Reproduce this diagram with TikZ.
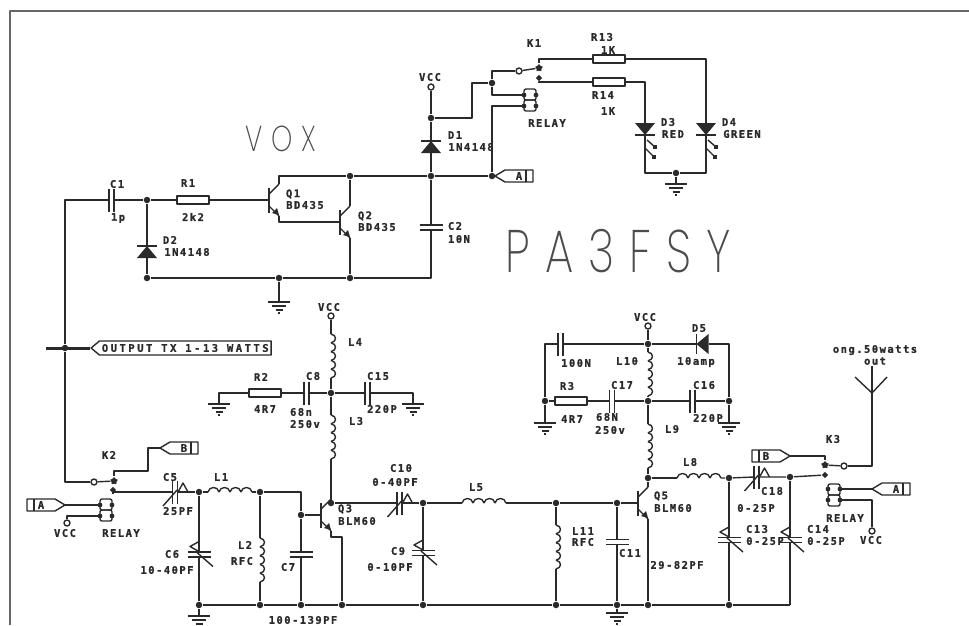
\documentclass[tikz,border=0pt]{standalone}
\usepackage{fontspec}
\usepackage{xcolor}
\usetikzlibrary{shapes.geometric,shapes.symbols}
\setmonofont[LetterSpace=14,BoldFeatures={FakeBold=1}]{DejaVu Sans Mono}
\newfontfamily\plotfont[FakeStretch=0.75,LetterSpace=25]{Poppins ExtraLight}
\definecolor{ink}{HTML}{2A2A2A}
\begin{document}
\begin{tikzpicture}[x=1pt,y=-1pt,line width=1.4pt,color=ink,line join=round]
        % Define styles for shapes
        \tikzstyle{dot} = [circle, fill, inner sep=0pt, minimum size=6.5pt]
        \tikzstyle{term} = [circle, draw, fill=white, inner sep=0pt, minimum size=6pt]
        \tikzstyle{res} = [rectangle, draw, fill=white, inner sep=0pt, minimum width=32pt, minimum height=8pt]
        \tikzstyle{lbl} = [font=\fontsize{10.5}{11}\ttfamily\bfseries, inner sep=0pt]
        \tikzstyle{plot} = [font=\plotfont, inner sep=0pt, color=black!70]
        \tikzstyle{cstar} = [star, star points=5, fill, inner sep=0pt, minimum size=8pt]
        \tikzstyle{cblob} = [diamond, fill, inner sep=0pt, minimum size=7pt]
        \tikzset{
            pics/cap/.style={code={
                \coordinate (-a) at (-2.5,0);
                \coordinate (-b) at (2.5,0);
                \draw (-2.5,-11.5) -- (-2.5,11.5);
                \draw (2.5,-11.5) -- (2.5,11.5);
            }},
            pics/trim/.style={code={
                \coordinate (-a) at (-2.5,0);
                \coordinate (-b) at (2.5,0);
                \draw (-2.5,-11.5) -- (-2.5,11.5);
                \draw (2.5,-11.5) -- (2.5,11.5);
                \draw (-12,14) -- (2,-2);
                \draw (3,0) -- (8,-9) -- (13,0);
            }},
            pics/coil/.style={code={
                \pgfmathsetmacro\coilw{44/#1}
                \coordinate (-a) at (0,0);
                \coordinate (-b) at (44,0);
                \foreach \i in {1,...,#1} {
                    \draw ({(\i-1)*\coilw},0) .. controls ({(\i-1)*\coilw+1},-6) and ({\i*\coilw-1},-6) .. ({\i*\coilw},0);
                }
            }},
            pics/gnd/.style={code={
                \coordinate (-t) at (0,0);
                \draw (-11,0) -- (11,0);
                \draw (-7,4) -- (7,4);
                \draw (-3.5,8) -- (3.5,8);
                \draw (-0.8,11) -- (0.8,11);
            }},
            pics/diode/.style={code={
                \coordinate (-a) at (0,-6);
                \coordinate (-b) at (0,6);
                \draw (-10,-6) -- (10,-6);
                \fill (-10,6) -- (10,6) -- (0,-6) -- cycle;
            }},
            pics/led/.style={code={
                \coordinate (-a) at (0,-6);
                \coordinate (-b) at (0,6);
                \draw (-10,6) -- (10,6);
                \fill (-10,-6) -- (10,-6) -- (0,6) -- cycle;
                \draw (2,11) -- (10,18);
                \draw (0,19) -- (9,28);
                \fill (8,16) rectangle (12,20);
                \fill (7,26) rectangle (11,30);
            }},
            pics/bjt/.style={code={
                \coordinate (-base) at (0,0);
                \coordinate (-c) at (10,-16);
                \coordinate (-e) at (10,16);
                \draw (0,-12.5) -- (0,12.5);
                \draw (0,-6) -- (-c);
                \draw (0,6) -- (-e);
                \fill (10,15) -- (3,13) -- (8,8) -- cycle;
            }},
            pics/tag/.style={code={
                \coordinate (-a) at (0,0);
                \draw (0,0) -- (10,-6) -- (38,-6) -- (38,6) -- (10,6) -- cycle;
                \draw (31,-6) -- (31,6);
                \node[lbl] (-t) at (24,0) {#1};
            }},
            pics/relay/.style={code={
                \coordinate (-p) at (-6,-5);
                \coordinate (-q) at (-6,6);
                \draw[rounded corners=2pt] (-6,-11) rectangle (6,0);
                \draw[rounded corners=2pt] (-6,0) rectangle (6,11);
                \fill (-6,-5) circle (2.4);
                \fill (-6,6) circle (2.4);
                \fill (6,-5) circle (2.4);
                \fill (6,6) circle (2.4);
            }}
        }
        \useasboundingbox (0,0) rectangle (969,625);

        % Draw frame
        \coordinate (fa) at (10,625);
        \coordinate (fb) at (10,11);
        \coordinate (fc) at (969,11);
        \draw[color=black!60,line width=1.5pt] (fa) -- (fb) -- (fc);

        % Draw junctions
        \node[dot] (j1) at (147,200) {};
        \node[dot] (j2) at (350,176) {};
        \node[dot] (j3) at (431,176) {};
        \node[dot] (j4) at (147,278) {};
        \node[dot] (j5) at (279,278) {};
        \node[dot] (j6) at (350,278) {};
        \node[dot] (j7) at (431,118) {};
        \node[dot] (j8) at (492,83) {};
        \node[dot] (j9) at (492,176) {};
        \node[dot] (j10) at (676,173) {};
        \node[dot] (out) at (65,348) {};
        \node[dot] (j11) at (331,393) {};
        \node[dot] (j12) at (331,503) {};
        \node[dot] (j13) at (199,492) {};
        \node[dot] (j14) at (260,492) {};
        \node[dot] (j15) at (301,515) {};
        \node[dot] (j16) at (423,503) {};
        \node[dot] (j17) at (556,503) {};
        \node[dot] (j18) at (617,503) {};
        \node[dot] (j19) at (648,478) {};
        \node[dot] (j20) at (729,478) {};
        \node[dot] (j21) at (790,477) {};
        \node[dot] (j22) at (648,344) {};
        \node[dot] (j23) at (648,401) {};
        \node[dot] (j24) at (545,401) {};
        \node[dot] (j25) at (729,401) {};
        \node[dot] (b1) at (199,605) {};
        \node[dot] (b2) at (260,605) {};
        \node[dot] (b3) at (301,605) {};
        \node[dot] (b4) at (342,605) {};
        \node[dot] (b5) at (423,605) {};
        \node[dot] (b6) at (556,605) {};
        \node[dot] (b7) at (617,605) {};
        \node[dot] (b8) at (648,605) {};
        \node[dot] (b9) at (729,605) {};
        \coordinate (b10) at (790,605);

        % Draw terminals
        \node[term] (vcc1) at (431,87) {};
        \node[term] (vcc2) at (331,316) {};
        \node[term] (vcc3) at (648,326) {};
        \node[term] (vcc4) at (67,523) {};
        \node[term] (vcc5) at (872,531) {};
        \node[term] (k1o) at (519,71) {};
        \node[term] (k2o) at (94,482) {};
        \node[term] (k3o) at (844,466) {};

        % Draw resistors
        \node[res] (r1) at (193,200) {};
        \node[res] (r2) at (265,393) {};
        \node[res] (r3) at (571,401) {};
        \node[res] (r13) at (609,59) {};
        \node[res] (r14) at (609,82) {};

        % Draw capacitors
        \pic (c1) at (111.5,200) {cap};
        \pic[rotate=90] (c2) at (431,227.5) {cap};
        \pic (c8) at (306.5,393) {cap};
        \pic (c15) at (367.5,393) {cap};
        \pic (c17) at (612,401) {cap};
        \pic (c16) at (692.5,401) {cap};
        \pic (c19) at (560.5,344) {cap};
        \pic[rotate=90] (c7) at (301,554.5) {cap};
        \pic[rotate=90] (c11) at (617,542) {cap};
        \pic (c5) at (175,492) {trim};
        \pic (c10) at (399.5,503) {trim};
        \pic (c18) at (756.5,477) {trim};
        \pic[rotate=90] (c6) at (199,554.5) {trim};
        \pic[rotate=90] (c9) at (423,553) {trim};
        \pic[rotate=90] (c13) at (729,540) {trim};
        \pic[rotate=90] (c14) at (790,540) {trim};

        % Draw coils
        \pic (l1) at (208,492) {coil=4};
        \pic (l5) at (462,503) {coil=4};
        \pic (l8) at (677,478) {coil=4};
        \pic[rotate=-90] (l2) at (260,538) {coil=5};
        \pic[rotate=-90] (l4) at (331,334) {coil=5};
        \pic[rotate=-90] (l3) at (331,415) {coil=5};
        \pic[rotate=-90] (l9) at (648,424) {coil=5};
        \pic[rotate=-90] (l10) at (648,352) {coil=5};
        \pic[rotate=-90] (l11) at (556,525) {coil=5};

        % Draw diodes
        \pic (d1) at (431,147) {diode};
        \pic (d2) at (147,252) {diode};
        \pic[rotate=90] (d5) at (702.5,344) {diode};
        \pic (d3) at (645,129) {led};
        \pic (d4) at (706,129) {led};

        % Draw transistors
        \pic (q1) at (269,200) {bjt};
        \pic (q2) at (340,222) {bjt};
        \pic (q3) at (321,515) {bjt};
        \pic (q5) at (638,503) {bjt};

        % Draw grounds
        \pic (g1) at (279,302) {gnd};
        \pic (g2) at (676,184) {gnd};
        \pic (g3) at (219,404) {gnd};
        \pic (g4) at (413,404) {gnd};
        \pic (g5) at (545,423) {gnd};
        \pic (g6) at (729,423) {gnd};
        \pic (g7) at (199,616) {gnd};
        \pic (g8) at (617,613) {gnd};

        % Draw relays and contacts
        \pic (rl1) at (530,100) {relay};
        \pic (rl2) at (106,510) {relay};
        \pic[rotate=180] (rl3) at (834,495) {relay};
        \node[cstar] (k1a) at (539,68) {};
        \node[cblob] (k1b) at (539,78) {};
        \node[cstar] (k2a) at (114,481) {};
        \node[cblob] (k2b) at (113,490) {};
        \node[cstar] (k3a) at (825,465) {};
        \node[cblob] (k3b) at (825,475) {};

        % Draw tags
        \pic (tg1) at (495,176) {tag=A};
        \pic[rotate=180] (tg2) at (65,505) {tag=A};
        \pic (tg3) at (160,448) {tag=B};
        \pic[rotate=180] (tg4) at (790,456) {tag=B};
        \pic (tg5) at (872,489) {tag=A};
        \node[lbl, signal, signal to=west, signal pointer angle=80, draw, anchor=west, minimum width=180pt, minimum height=14pt] (outtag) at (90,348) {\addfontfeature{LetterSpace=24}OUTPUT TX 1-13 WATTS};
        \coordinate (outl) at (46,348);

        % Draw antenna
        \coordinate (ant) at (872,393);
        \coordinate (anta) at (855,377);
        \coordinate (antb) at (887,377);
        \draw (anta) -- (ant) -- (antb);
        \draw (ant) -- (872,366);

        % Draw wires
        \draw[line width=3pt] (outl) -- (outtag.west);
        \draw (out) |- (c1-a);
        \draw (out) |- (k2o);
        \draw (c1-b) -- (j1) -- (r1) -- (q1-base);
        \draw (j1) -- (d2-a);
        \draw (d2-b) -- (j4) -- (j5) -- (j6) -| (c2-a);
        \draw (q1-c) |- (j2);
        \draw (j2) -- (j3) -- (j9);
        \draw (q1-e) |- (q2-base);
        \draw (q2-c) -- (j2);
        \draw (q2-e) -- (j6);
        \draw (j5) -- (g1-t);
        \draw (c2-b) -- (j3);
        \draw (j3) -- (d1-b);
        \draw (d1-a) -- (j7) -- (vcc1);
        \draw (j7) -| (472,83) -- (j8);
        \draw (j8) |- (k1o);
        \draw (k1o) -- (k1a);
        \draw (j8) |- (rl1-p);
        \draw (j9) |- (rl1-q);
        \draw (j9) -- (tg1-a);
        \draw (k1a) |- (r13);
        \draw (k1b) |- (r14);
        \draw (r13) -| (d4-a);
        \draw (r14) -| (d3-a);
        \draw (d3-b) |- (j10);
        \draw (d4-b) |- (j10);
        \draw (j10) -- (g2-t);

        \draw (vcc2) -- (l4-a);
        \draw (l4-b) -- (j11) -- (l3-a);
        \draw (l3-b) -- (j12);
        \draw (j11) -- (c8-b);
        \draw (c8-a) -- (r2);
        \draw (r2) -| (g3-t);
        \draw (j11) -- (c15-a);
        \draw (c15-b) -| (g4-t);

        \draw (k2o) -- (k2a);
        \draw (k2a) |- (148,471) |- (tg3-a);
        \draw (k2b) |- (c5-a);
        \draw (tg2-a) -- (rl2-p);
        \draw (vcc4) |- (rl2-q);
        \draw (c5-b) -- (j13) -- (l1-a);
        \draw (l1-b) -- (j14) -| (j15);
        \draw (j15) -- (q3-base);
        \draw (j13) -- (c6-b);
        \draw (c6-a) -- (b1);
        \draw (j14) -- (l2-a);
        \draw (l2-b) -- (b2);
        \draw (j15) -- (c7-b);
        \draw (c7-a) -- (b3);
        \draw (b1) -- (b2) -- (b3) -- (b4) -- (b5) -- (b6) -- (b7) -- (b8) -- (b9) -- (b10);
        \draw (b1) -- (g7-t);
        \draw (b7) -- (g8-t);
        \draw (q3-c) -- (j12);
        \draw (q3-e) -- (331,537) -| (b4);
        \draw (j12) -- (c10-a);
        \draw (c10-b) -- (j16) -- (l5-a);
        \draw (l5-b) -- (j17) -- (j18) -- (q5-base);
        \draw (j16) -- (c9-b);
        \draw (c9-a) -- (b5);
        \draw (j17) -- (l11-a);
        \draw (l11-b) -- (b6);
        \draw (j18) -- (c11-b);
        \draw (c11-a) -- (b7);

        \draw (vcc3) -- (j22) -- (l10-a);
        \draw (l10-b) -- (j23) -- (l9-a);
        \draw (l9-b) -- (j19);
        \draw (q5-c) -- (j19);
        \draw (q5-e) -- (b8);
        \draw (j22) -- (c19-b);
        \draw (c19-a) -| (j24);
        \draw (j24) -- (r3) -- (c17-a);
        \draw (c17-b) -- (j23);
        \draw (j24) -- (g5-t);
        \draw (j22) -- (d5-a);
        \draw (d5-b) -| (j25);
        \draw (j23) -- (c16-a);
        \draw (c16-b) -- (j25) -- (g6-t);
        \draw (j19) -- (l8-a);
        \draw (l8-b) -- (j20) -- (c18-a);
        \draw (c18-b) -- (j21) -- (k3b);
        \draw (j20) -- (c13-b);
        \draw (c13-a) -- (b9);
        \draw (j21) -- (c14-b);
        \draw (c14-a) -- (b10);
        \draw (tg4-a) -| (k3a);
        \draw (k3a) -- (k3o);
        \draw (k3o) -| (ant);
        \draw (tg5-a) -- (rl3-q);
        \draw (rl3-p) -| (vcc5);

        % Draw big titles
        \node[plot] (vox) at (281,139) {\fontsize{36}{36}\selectfont VOX};
        \node[plot] (call) at (618,251) {\fontsize{60}{60}\selectfont PA3FSY};

        % Draw labels
        \node[lbl] (tC1) at (117,184) {C1};
        \node[lbl] (t1p) at (118,218) {1p};
        \node[lbl] (tR1) at (188,183) {R1};
        \node[lbl] (t2k2) at (193,217) {2k2};
        \node[lbl] (tQ1) at (293,194) {Q1};
        \node[lbl] (tB1) at (305,205) {BD435};
        \node[lbl] (tQ2) at (365,216) {Q2};
        \node[lbl] (tB2) at (377,227) {BD435};
        \node[lbl] (tD2) at (170,240) {D2};
        \node[lbl] (tN2) at (187,252) {1N4148};
        \node[lbl] (tC2) at (455,226) {C2};
        \node[lbl] (t10N) at (459,239) {10N};
        \node[lbl] (tV1) at (430,77) {VCC};
        \node[lbl] (tD1) at (455,135) {D1};
        \node[lbl] (tN1) at (471,147) {1N4148};
        \node[lbl] (tK1) at (534,43) {K1};
        \node[lbl] (tR13) at (602,37) {R13};
        \node[lbl] (t1K) at (608,50) {1K};
        \node[lbl] (tR14) at (603,95) {R14};
        \node[lbl] (t1Kb) at (608,111) {1K};
        \node[lbl] (tRel1) at (547,123) {RELAY};
        \node[lbl] (tD3) at (668,122) {D3};
        \node[lbl] (tRED) at (673,134) {RED};
        \node[lbl] (tD4) at (729,122) {D4};
        \node[lbl] (tGRN) at (742,134) {GREEN};
        \node[lbl] (tV2) at (329,307) {VCC};
        \node[lbl] (tL4) at (355,342) {L4};
        \node[lbl] (tR2) at (261,377) {R2};
        \node[lbl] (t4R7) at (265,409) {4R7};
        \node[lbl] (tC8) at (313,376) {C8};
        \node[lbl] (t68n) at (301,412) {68n};
        \node[lbl] (t250) at (305,424) {250v};
        \node[lbl] (tC15) at (378,376) {C15};
        \node[lbl] (t220) at (382,409) {220P};
        \node[lbl] (tL3) at (356,421) {L3};
        \node[lbl] (tK2) at (109,455) {K2};
        \node[lbl] (tC5) at (170,477) {C5};
        \node[lbl] (t25) at (178,511) {25PF};
        \node[lbl] (tL1) at (221,477) {L1};
        \node[lbl] (tV4) at (65,533) {VCC};
        \node[lbl] (tRel2) at (121,533) {RELAY};
        \node[lbl] (tC6) at (172,554) {C6};
        \node[lbl] (t1040) at (167,570) {10-40PF};
        \node[lbl] (tL2) at (245,545) {L2};
        \node[lbl] (tRFC) at (242,561) {RFC};
        \node[lbl] (tC7) at (288,567) {C7};
        \node[lbl] (t100) at (303,620) {100-139PF};
        \node[lbl] (tQ3) at (345,509) {Q3};
        \node[lbl] (tBL3) at (357,521) {BLM60};
        \node[lbl] (tC10) at (401,468) {C10};
        \node[lbl] (t040) at (395,482) {0-40PF};
        \node[lbl] (tL5) at (476,487) {L5};
        \node[lbl] (tC9) at (398,551) {C9};
        \node[lbl] (t010) at (390,567) {0-10PF};
        \node[lbl] (tL11) at (583,531) {L11};
        \node[lbl] (tRFCb) at (583,542) {RFC};
        \node[lbl] (tC11) at (630,553) {C11};
        \node[lbl] (tV3) at (645,317) {VCC};
        \node[lbl] (t100N) at (576,363) {100N};
        \node[lbl] (tL10) at (627,361) {L10};
        \node[lbl] (tD5) at (699,328) {D5};
        \node[lbl] (t10a) at (696,362) {10amp};
        \node[lbl] (tR3) at (567,386) {R3};
        \node[lbl] (t4R7b) at (572,419) {4R7};
        \node[lbl] (tC17) at (622,385) {C17};
        \node[lbl] (t68N) at (607,417) {68N};
        \node[lbl] (t250b) at (610,430) {250v};
        \node[lbl] (tC16) at (704,385) {C16};
        \node[lbl] (t220b) at (708,418) {220P};
        \node[lbl] (tL9) at (672,429) {L9};
        \node[lbl] (tL8) at (690,462) {L8};
        \node[lbl] (tQ5) at (661,496) {Q5};
        \node[lbl] (tBL5) at (673,508) {BLM60};
        \node[lbl] (t2982) at (677,565) {29-82PF};
        \node[lbl] (tC18) at (772,491) {C18};
        \node[lbl] (t025a) at (756,508) {0-25P};
        \node[lbl] (tC13) at (757,529) {C13};
        \node[lbl] (t025b) at (765,541) {0-25P};
        \node[lbl] (tC14) at (818,529) {C14};
        \node[lbl] (t025c) at (826,541) {0-25P};
        \node[lbl] (tK3) at (833,439) {K3};
        \node[lbl] (tRel3) at (845,518) {RELAY};
        \node[lbl] (tV5) at (871,540) {VCC};
        \node[lbl] (tOng) at (875,350) {ong.50watts};
        \node[lbl] (tOut) at (875,361) {out};
    \end{tikzpicture}
\end{document}
